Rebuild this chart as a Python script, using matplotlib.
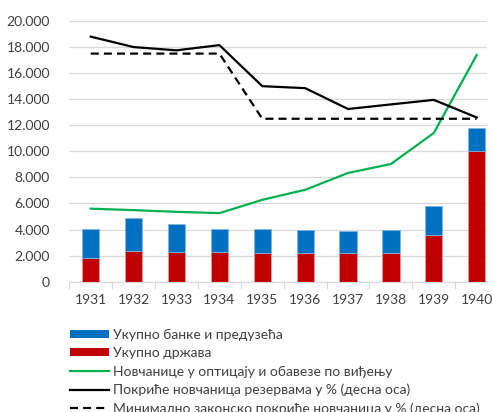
import matplotlib.pyplot as plt
import numpy as np
from matplotlib.patches import Patch
from matplotlib.lines import Line2D

plt.rcParams['font.family'] = ['Lato', 'DejaVu Sans']

years = ['1931', '1932', '1933', '1934', '1935', '1936', '1937', '1938', '1939', '1940']
drzava = [1800, 2380, 2310, 2260, 2230, 2230, 2230, 2230, 3590, 10000]
banke = [2230, 2470, 2080, 1770, 1800, 1720, 1670, 1750, 2230, 1800]
novcanice = [5600, 5490, 5360, 5260, 6280, 7050, 8340, 9030, 11410, 17390]
pokrice = [37.6, 36.0, 35.5, 36.3, 30.0, 29.7, 26.5, 27.2, 27.9, 25.2]
min_pokrice = [35, 35, 35, 35, 25, 25, 25, 25, 25, 25]

labels = ['Укупно банке и предузећа',
          'Укупно држава',
          'Новчанице у оптицају и обавезе по виђењу',
          'Покриће новчаница резервама у % (десна оса)',
          'Минимално законско покриће новчаница у % (десна оса)']

c_blue = '#0070C0'
c_red = '#C00000'
c_green = '#00B050'
c_text = '#404040'
c_grid = '#D9D9D9'

fig = plt.figure(figsize=(4.93, 4.12), dpi=100)
ax = fig.add_axes([0.1406, 0.3163, 0.9878 - 0.1406, 0.949 - 0.3163])
x = np.arange(len(years))

ax.bar(x, drzava, width=0.4, color=c_red, edgecolor='#E8A0A0', linewidth=0.5, zorder=3)
ax.bar(x, banke, bottom=drzava, width=0.4, color=c_blue, edgecolor='#7FB5E0',
       linewidth=0.5, zorder=3)
ax.plot(x, novcanice, color=c_green, lw=1.6, zorder=4)

ax.set_ylim(0, 20000)
ax.set_xlim(-0.5, 9.24)
ax.set_yticks(np.arange(0, 20001, 2000))
ax.set_yticklabels([f'{v:,}'.replace(',', '.') for v in range(0, 20001, 2000)])
ax.set_xticks(x)
ax.set_xticklabels(years)
ax.set_xticks(np.arange(-0.5, 9.5, 1), minor=True)
ax.tick_params(axis='x', which='major', length=0, pad=9, labelsize=10, colors=c_text)
ax.tick_params(axis='x', which='minor', length=5, color=c_grid, width=0.8)
ax.tick_params(axis='y', length=0, pad=14, labelsize=10, colors=c_text)
ax.yaxis.grid(True, color=c_grid, lw=0.9, zorder=0)
ax.set_axisbelow(True)
for s in ['top', 'right', 'left']:
    ax.spines[s].set_visible(False)
ax.spines['bottom'].set_color(c_grid)
ax.spines['bottom'].set_linewidth(0.9)

# percentages on a hidden right axis
ax2 = ax.twinx()
ax2.set_ylim(0, 40)
ax2.plot(x, pokrice, color='black', lw=1.6, zorder=5)
ax2.plot(x, min_pokrice, color='black', lw=1.6, dashes=(3.6, 2.3), zorder=5)
ax2.set_yticks([])
for s in ax2.spines.values():
    s.set_visible(False)

handles = [Patch(facecolor=c_blue), Patch(facecolor=c_red),
           Line2D([], [], color=c_green, lw=1.6),
           Line2D([], [], color='black', lw=1.6),
           Line2D([], [], color='black', lw=1.6, dashes=(3.6, 2.3))]
fig.legend(handles, labels, loc='upper left', bbox_to_anchor=(0.142, 0.202),
           frameon=False, fontsize=10, labelcolor=c_text, handlelength=2.8,
           handleheight=0.5, handletextpad=0.3, labelspacing=0.44,
           borderpad=0, borderaxespad=0)

fig.savefig('out.png', dpi=100)
